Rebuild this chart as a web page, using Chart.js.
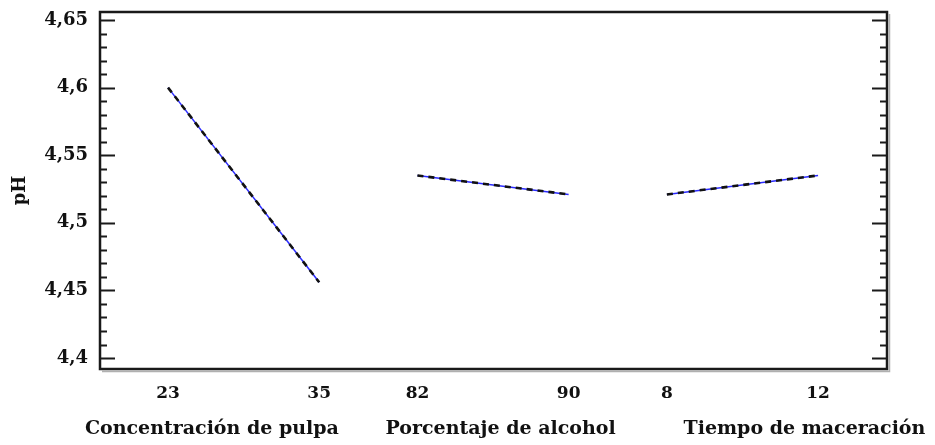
<!DOCTYPE html>
<html>
<head>
<meta charset="utf-8">
<script src="https://cdn.jsdelivr.net/npm/chart.js@4/dist/chart.umd.min.js"></script>
<style>
html,body{margin:0;padding:0;background:#fff;}
#wrap{width:935px;height:445px;position:relative;}
</style>
</head>
<body>
<div id="wrap"><canvas id="c" width="935" height="445"></canvas></div>
<script>
// ---- data ----
const factorNames = ['Concentración de pulpa', 'Porcentaje de alcohol', 'Tiempo de maceración'];
const pulpaLevels = [23, 35];
const pulpaPH = [4.600, 4.456];
const alcoholLevels = [82, 90];
const alcoholPH = [4.535, 4.521];
const tiempoLevels = [8, 12];
const tiempoPH = [4.521, 4.535];
const yTickValues = [4.4, 4.45, 4.5, 4.55, 4.6, 4.65];
const yTickLabels = ['4,4', '4,45', '4,5', '4,55', '4,6', '4,65'];
const yAxisTitle = 'pH';

// ---- layout (positions of each factor panel along one shared x axis) ----
const panelStart = [0, 1.65, 3.3];   // x-axis position of the low level of each factor
const panelWidth = 1;                // distance low->high level
const titleOffset = [0.29, 0.55, 0.91];

const levels = [pulpaLevels, alcoholLevels, tiempoLevels];
const values = [pulpaPH, alcoholPH, tiempoPH];

const xTickPos = [];
const xTickText = [];
levels.forEach((lv, i) => {
  lv.forEach((l, j) => { xTickPos.push(panelStart[i] + j * panelWidth); xTickText.push(String(l)); });
});

const datasets = [];
levels.forEach((lv, i) => {
  const pts = values[i].map((v, j) => ({ x: panelStart[i] + j * panelWidth, y: v }));
  datasets.push({ data: pts, borderColor: '#2a2aff', borderWidth: 1.5, pointRadius: 0, order: 2 });
  datasets.push({ data: pts, borderColor: '#111', borderWidth: 2.6, borderDash: [6, 5], pointRadius: 0, order: 1 });
});

const FONT = 'DejaVu Serif';

const decor = {
  id: 'decor',
  afterDraw(chart) {
    const { ctx, chartArea: a, scales } = chart;
    const ys = scales.y, xs = scales.x;
    ctx.save();
    // shadow of frame
    ctx.strokeStyle = '#b0b0b0';
    ctx.lineWidth = 1.5;
    ctx.beginPath();
    ctx.moveTo(a.left + 2, a.bottom + 2.5);
    ctx.lineTo(a.right + 2.5, a.bottom + 2.5);
    ctx.lineTo(a.right + 2.5, a.top + 2);
    ctx.stroke();
    // frame
    ctx.strokeStyle = '#1a1a1a';
    ctx.lineWidth = 2.5;
    ctx.strokeRect(a.left, a.top, a.right - a.left, a.bottom - a.top);
    // ticks inside the frame
    ctx.lineWidth = 2;
    for (let k = 0; k <= 25; k++) {
      const v = 4.4 + k * 0.01;
      const py = Math.round(ys.getPixelForValue(v)) + 0.5;
      const major = k % 5 === 0;
      const len = major ? 15 : 7;
      ctx.beginPath();
      ctx.moveTo(a.left, py); ctx.lineTo(a.left + len, py);
      ctx.moveTo(a.right, py); ctx.lineTo(a.right - len, py);
      ctx.stroke();
    }
    // factor titles
    ctx.fillStyle = '#111';
    ctx.font = 'bold 19px "' + FONT + '"';
    ctx.textAlign = 'center';
    ctx.textBaseline = 'middle';
    factorNames.forEach((t, i) => {
      const px = xs.getPixelForValue(panelStart[i] + titleOffset[i] * panelWidth);
      ctx.fillText(t, px, 429);
    });
    ctx.restore();
  }
};

new Chart(document.getElementById('c'), {
  type: 'line',
  data: { datasets },
  plugins: [decor],
  options: {
    responsive: false,
    animation: false,
    events: [],
    layout: { padding: { top: 12, right: 48, left: 0, bottom: 0 } },
    plugins: { legend: { display: false }, tooltip: { enabled: false } },
    scales: {
      x: {
        type: 'linear',
        min: -0.45,
        max: 4.756,
        grid: { display: false, drawTicks: false },
        border: { display: false },
        afterBuildTicks(s) { s.ticks = xTickPos.map(v => ({ value: v })); },
        afterFit(s) { s.height = 76; s.paddingLeft = 0; s.paddingRight = 0; },
        ticks: {
          autoSkip: false,
          maxRotation: 0,
          padding: 14,
          color: '#111',
          font: { family: FONT, weight: 'bold', size: 17 },
          callback(v) { const i = xTickPos.findIndex(p => Math.abs(p - v) < 1e-6); return i >= 0 ? xTickText[i] : ''; }
        }
      },
      y: {
        type: 'linear',
        min: 4.3919,
        max: 4.6559,
        grid: { display: false, drawTicks: false },
        border: { display: false },
        afterBuildTicks(s) { s.ticks = yTickValues.map(v => ({ value: v })); },
        afterFit(s) { s.width = 100; s.paddingTop = 0; s.paddingBottom = 0; },
        ticks: {
          padding: 12,
          color: '#111',
          font: { family: FONT, weight: 'bold', size: 18 },
          callback(v) { const i = yTickValues.findIndex(p => Math.abs(p - v) < 1e-6); return i >= 0 ? yTickLabels[i] : ''; }
        },
        title: {
          display: true,
          text: yAxisTitle,
          color: '#111',
          padding: { top: 10, bottom: 0 },
          font: { family: FONT, weight: 'bold', size: 18 }
        }
      }
    }
  }
});
</script>
</body>
</html>
